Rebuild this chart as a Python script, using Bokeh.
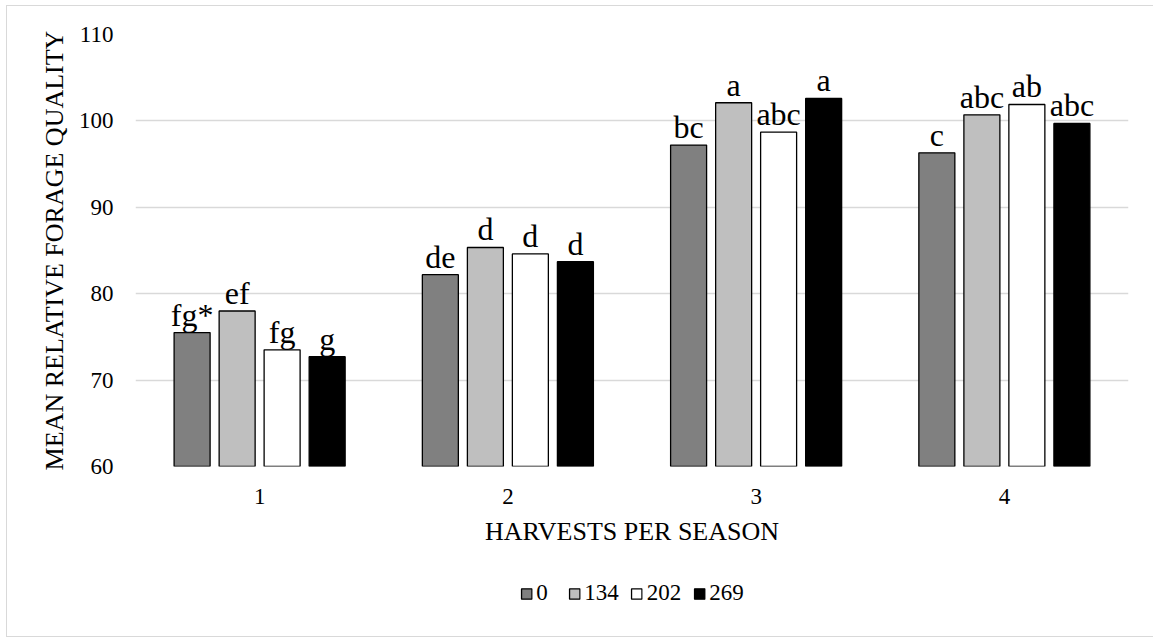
from bokeh.plotting import figure
from bokeh.layouts import column
from bokeh.models import (ColumnDataSource, FactorRange, Range1d, FixedTicker, Legend,
                          LegendItem)
from bokeh.transform import dodge
from bokeh.core.properties import value
from bokeh.embed import file_html
from bokeh.resources import INLINE

# ---- data ----
groups = ["1", "2", "3", "4"]
rates = ["0", "134", "202", "269"]
vals_0 = [75.5, 82.2, 97.2, 96.3]
vals_134 = [78.0, 85.35, 102.1, 100.7]
vals_202 = [73.5, 84.6, 98.7, 101.9]
vals_269 = [72.7, 83.7, 102.6, 99.7]
letters_0 = ["fg*", "de", "bc", "c"]
letters_134 = ["ef", "d", "a", "abc"]
letters_202 = ["fg", "d", "abc", "ab"]
letters_269 = ["g", "d", "a", "abc"]
y_ticks = [60, 70, 80, 90, 100, 110]

series_vals = [vals_0, vals_134, vals_202, vals_269]
series_letters = [letters_0, letters_134, letters_202, letters_269]
fills = ["#808080", "#bfbfbf", "#ffffff", "#000000"]
offsets = [-0.272, -0.0906, 0.0906, 0.272]
bar_w = 0.145
FONT = "Liberation Serif"

p = figure(width=1153, height=571, x_range=FactorRange(*groups, range_padding=0),
           y_range=Range1d(y_ticks[0], y_ticks[-1]), output_backend="svg",
           toolbar_location=None, min_border_left=135, min_border_right=25,
           min_border_top=34, min_border_bottom=105)
p.outline_line_color = None
p.background_fill_color = "white"
p.border_fill_alpha = 0

# strip below the chart holding the legend; its range holds none of the groups,
# so its renderers draw no bars and only serve the legend swatches
leg_fig = figure(width=1153, height=66, x_range=FactorRange("legend"), y_range=Range1d(0, 1),
                 output_backend="svg", toolbar_location=None, x_axis_type=None,
                 y_axis_type=None, min_border_left=135, min_border_right=25,
                 min_border_top=0, min_border_bottom=22)
leg_fig.outline_line_color = None
leg_fig.background_fill_alpha = 0
leg_fig.border_fill_alpha = 0
leg_fig.grid.visible = False

items = []
for name, vals, lets, col, off in zip(rates, series_vals, series_letters, fills, offsets):
    src = ColumnDataSource(dict(g=groups, v=vals, t=lets))
    p.vbar(x=dodge("g", off, range=p.x_range), top="v", bottom=y_ticks[0], width=bar_w,
           source=src, fill_color=col, line_color="#000000", line_width=1.3)
    p.text(x=dodge("g", off, range=p.x_range), y="v", text="t", source=src,
           text_align="center", text_baseline="bottom", text_font=value(FONT),
           text_font_size="32px", text_color="#000000")
    r = leg_fig.vbar(x="g", top="v", bottom=y_ticks[0], width=bar_w, source=src,
                     fill_color=col, line_color="#000000", line_width=1.3)
    items.append(LegendItem(label=name, renderers=[r]))

# axes
p.yaxis.ticker = FixedTicker(ticks=y_ticks)
for ax in (p.xaxis[0], p.yaxis[0]):
    ax.axis_line_color = None
    ax.major_tick_line_color = None
    ax.minor_tick_line_color = None
    ax.major_label_text_font = FONT
    ax.major_label_text_font_size = "23px"
    ax.major_label_text_color = "#000000"
    ax.axis_label_text_font = FONT
    ax.axis_label_text_font_size = "26px"
    ax.axis_label_text_font_style = "normal"
    ax.axis_label_text_color = "#000000"
p.xaxis.axis_label = "HARVESTS PER SEASON"
p.yaxis.axis_label = "MEAN RELATIVE FORAGE QUALITY"
p.xaxis.major_label_standoff = 16
p.xaxis.axis_label_standoff = 10
p.yaxis.major_label_standoff = 16
p.yaxis.axis_label_standoff = 7

p.xgrid.grid_line_color = None
p.ygrid.grid_line_color = "#d9d9d9"
p.ygrid.grid_line_width = 1.3

legend = Legend(items=items, orientation="horizontal", location="center",
                label_text_font=FONT, label_text_font_size="23px", label_text_color="#000000",
                glyph_width=13, glyph_height=13, label_standoff=4, spacing=11,
                border_line_color=None, background_fill_alpha=0, padding=0, margin=0)
leg_fig.add_layout(legend, "center")

layout = column(p, leg_fig, spacing=0)
layout.styles = {"box-shadow": "inset 6px 5px 0 0 white, inset 7px 6px 0 0 #d9d9d9, "
                               "inset 0 -1px 0 0 #d9d9d9"}

open("out.html", "w").write(file_html(layout, INLINE))
